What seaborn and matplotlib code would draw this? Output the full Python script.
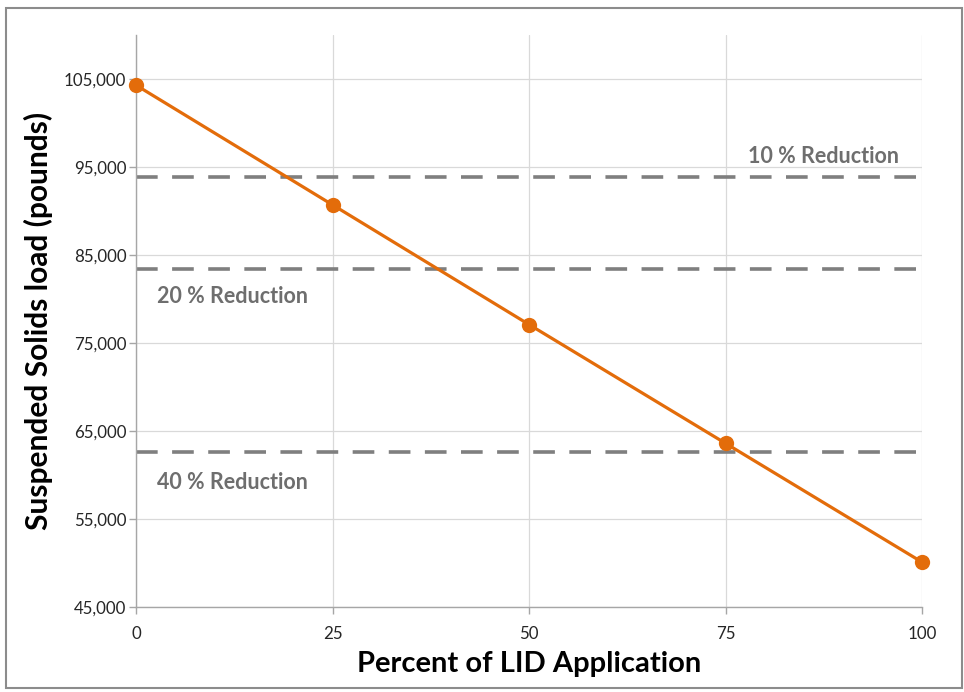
import matplotlib
matplotlib.use('Agg')
import matplotlib.pyplot as plt
import matplotlib.patches as mpatches
import pandas as pd
import seaborn as sns

# Values
lid_percent = [0, 25, 50, 75, 100]
solids_load = [104300, 90700, 77100, 63600, 50100]

reduction_labels = ['10 % Reduction', '20 % Reduction', '40 % Reduction']
reduction_levels = [93870, 83440, 62580]

x_ticks = [0, 25, 50, 75, 100]
y_ticks = [45000, 55000, 65000, 75000, 85000, 95000, 105000]

ORANGE = '#E36C0A'
GRAY = '#7F7F7F'

sns.set_theme(style='white')
plt.rcParams['font.family'] = ['Lato', 'DejaVu Sans']

fig = plt.figure(figsize=(9.64, 6.92), dpi=100)
ax = fig.add_axes([136 / 964, 1 - 607 / 692, (922 - 136) / 964, (607 - 35) / 692])

df = pd.DataFrame({'pct': lid_percent, 'load': solids_load})

# reduction target lines
for level in reduction_levels:
    ax.axhline(level, color=GRAY, lw=2.6, ls=(0, (6, 4)), zorder=2)

sns.lineplot(data=df, x='pct', y='load', color=ORANGE, lw=2.3, marker='o',
             markersize=11, markeredgewidth=0, ax=ax, zorder=3)
for line in ax.lines:
    line.set_clip_on(False)

# annotations
text_kw = dict(color='#6E6E6E', fontsize=15.5, fontweight='bold', va='center')
ax.text(87.5, 96200, reduction_labels[0], ha='center', **text_kw)
ax.text(2.7, 80300, reduction_labels[1], ha='left', **text_kw)
ax.text(2.7, 59100, reduction_labels[2], ha='left', **text_kw)

ax.set_xlim(0, 100)
ax.set_ylim(45000, 110000)
ax.set_xticks(x_ticks)
ax.set_yticks(y_ticks)
ax.set_yticklabels([f'{v:,}' for v in y_ticks])
ax.grid(True, color='#D9D9D9', lw=0.9)
ax.set_axisbelow(True)

for side in ['top', 'right']:
    ax.spines[side].set_visible(False)
for side in ['left', 'bottom']:
    ax.spines[side].set_color('#A6A6A6')
    ax.spines[side].set_linewidth(1.0)

ax.tick_params(axis='both', which='major', length=5, width=1, color='#A6A6A6',
               labelsize=12.2, labelcolor='#262626', direction='out',
               bottom=True, left=True)
ax.tick_params(axis='x', pad=9)
ax.tick_params(axis='y', pad=2)

ax.set_xlabel('Percent of LID Application', fontsize=21, fontweight='bold',
              color='black', labelpad=6)
ax.set_ylabel('Suspended Solids load (pounds)', fontsize=21.5, fontweight='bold',
              color='black', labelpad=8)

# outer border around the whole chart
fig.patches.append(mpatches.Rectangle((6 / 964, 4 / 692), 956 / 964, 680 / 692,
                                      transform=fig.transFigure, fill=False,
                                      edgecolor='#8C8C8C', lw=1.5))

fig.savefig('out.png', dpi=100)
